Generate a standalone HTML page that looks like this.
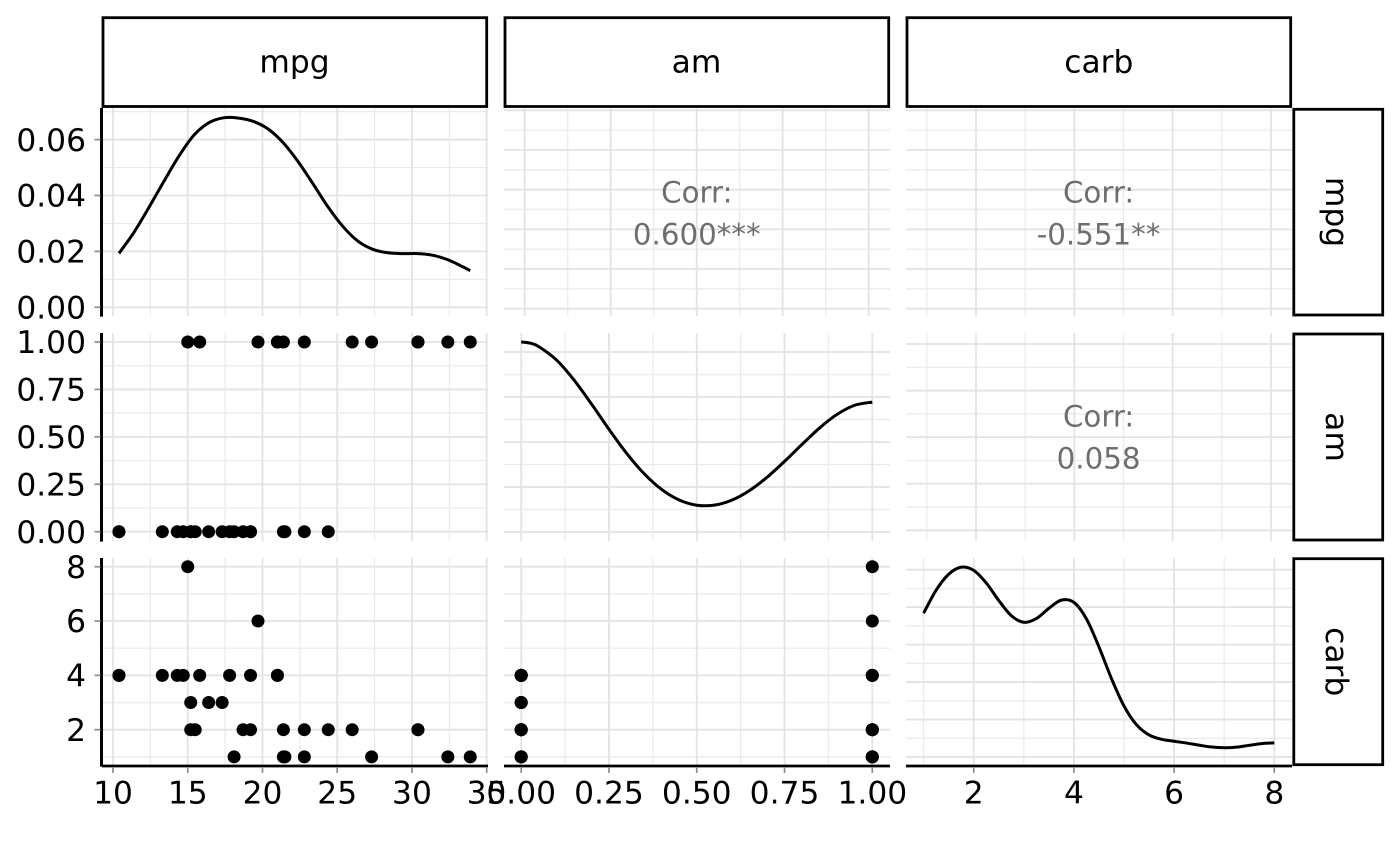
<!DOCTYPE html>
<html lang="en">
<head>
<meta charset="utf-8">
<title>Pairs plot of mpg, am and carb</title>
<style>
  html, body { margin: 0; padding: 0; background: #fff; }
  svg { display: block; }
  text { font-family: "DejaVu Sans", sans-serif; font-size: 31.3px; fill: #000; }
  .corr { fill: #6e6e6e; text-anchor: middle; font-size: 29.3px; }
  .strip-label { text-anchor: middle; }
  .strip-box { fill: #fff; stroke: #000; stroke-width: 2.8; }
</style>
</head>
<body>
<svg id="chart" xmlns="http://www.w3.org/2000/svg" width="1400" height="866" viewBox="0 0 1400 866">
  <rect x="0" y="0" width="1400" height="866" fill="#fff"/>
  <g id="grid"></g>

  <g>
    <text class="corr" x="696.8" y="202.3">Corr:</text>
    <text class="corr" x="696.8" y="244.3">0.600***</text>
    <text class="corr" x="1098.6" y="202.3">Corr:</text>
    <text class="corr" x="1098.6" y="244.3">-0.551**</text>
    <text class="corr" x="1098.6" y="426.6">Corr:</text>
    <text class="corr" x="1098.6" y="468.7">0.058</text>
  </g>

  <g id="marks"></g>
  <g id="axes"></g>

  <g>
    <rect class="strip-box" x="103" y="17.7" width="383.7" height="88.8"/>
    <text class="strip-label" x="294.5" y="72.7">mpg</text>
    <rect class="strip-box" x="505" y="17.7" width="383.7" height="88.8"/>
    <text class="strip-label" x="696.5" y="72.7">am</text>
    <rect class="strip-box" x="907" y="17.7" width="383.7" height="88.8"/>
    <text class="strip-label" x="1098.8" y="72.7">carb</text>
  </g>

  <g>
    <rect class="strip-box" x="1293.8" y="109.3" width="88.9" height="205.7"/>
    <text class="strip-label" transform="translate(1326 212) rotate(90)" x="0" y="0">mpg</text>
    <rect class="strip-box" x="1293.8" y="334" width="88.9" height="206"/>
    <text class="strip-label" transform="translate(1326 437) rotate(90)" x="0" y="0">am</text>
    <rect class="strip-box" x="1293.8" y="558.7" width="88.9" height="206"/>
    <text class="strip-label" transform="translate(1326 661.7) rotate(90)" x="0" y="0">carb</text>
  </g>
</svg>

<script>
// ---- Data ----
const mpgValues = [21,21,22.8,21.4,18.7,18.1,14.3,24.4,22.8,19.2,17.8,16.4,17.3,15.2,10.4,10.4,14.7,32.4,30.4,33.9,21.5,15.5,15.2,13.3,19.2,27.3,26,30.4,15.8,19.7,15,21.4];
const amValues = [1,1,1,0,0,0,0,0,0,0,0,0,0,0,0,0,0,1,1,1,0,0,0,0,0,1,1,1,1,1,1,1];
const carbValues = [4,4,1,1,2,1,4,2,2,4,4,3,3,3,4,4,4,1,2,1,1,2,2,4,2,1,2,2,4,6,8,2];

const mpgDensityX = [10.4,11.4,12.4,13.4,14.4,15.4,16.4,17.4,18.4,19.4,20.4,21.4,22.4,23.4,24.4,25.4,26.4,27.4,28.4,29.4,30.4,31.4,32.4,33.4,33.9];
const mpgDensityY = [0.0193,0.0268,0.0357,0.045,0.054,0.0615,0.066,0.0678,0.0677,0.0665,0.0637,0.0588,0.052,0.044,0.0358,0.0288,0.0236,0.0207,0.0195,0.0192,0.0192,0.0186,0.017,0.0145,0.0131];

const amDensityX = [0,0.025,0.05,0.1,0.15,0.2,0.25,0.3,0.35,0.4,0.45,0.5,0.55,0.6,0.65,0.7,0.75,0.8,0.85,0.9,0.95,1];
const amDensityY = [1.056,1.0495,1.03,0.9565,0.8454,0.7115,0.5707,0.438,0.3242,0.2363,0.1775,0.1488,0.1494,0.1773,0.2301,0.3037,0.3922,0.4871,0.5782,0.6539,0.7041,0.7217];

const carbDensityX = [1,1.25,1.5,1.75,2,2.25,2.5,2.75,3,3.25,3.5,3.75,4,4.25,4.5,4.75,5,5.25,5.5,5.75,6,6.25,6.5,6.75,7,7.25,7.5,7.75,8];
const carbDensityY = [0.1919,0.2227,0.2439,0.2534,0.2491,0.2323,0.2089,0.1887,0.1798,0.1848,0.1984,0.2094,0.2064,0.1844,0.147,0.1047,0.0681,0.043,0.0295,0.0236,0.021,0.0186,0.0158,0.0133,0.0123,0.0132,0.0156,0.0179,0.0188];

// Break values and tick labels
const mpgBreaks = [10,15,20,25,30,35];
const mpgMinorBreaks = [12.5,17.5,22.5,27.5,32.5];
const mpgTickLabels = ["10","15","20","25","30","35"];
const amBreaks = [0,0.25,0.5,0.75,1];
const amMinorBreaks = [0.125,0.375,0.625,0.875];
const amTickLabels = ["0.00","0.25","0.50","0.75","1.00"];
const carbBreaks = [2,4,6,8];
const carbMinorBreaks = [1,3,5,7];
const carbTickLabels = ["2","4","6","8"];
const mpgDensityBreaks = [0,0.02,0.04,0.06];
const mpgDensityMinorBreaks = [0.01,0.03,0.05,0.07];
const mpgDensityTickLabels = ["0.00","0.02","0.04","0.06"];
const carbDensityBreaks = [0,0.05,0.1,0.15,0.2,0.25];
const carbDensityMinorBreaks = [0.025,0.075,0.125,0.175,0.225];
const corrRowBreaks = [0,0.25,0.5,0.75,1,1.25];
const corrRowMinorBreaks = [0.125,0.375,0.625,0.875,1.125];

// ---- Axis functions ----
function linear(d0, d1, p0, p1) {
  return function (v) { return p0 + (v - d0) * (p1 - p0) / (d1 - d0); };
}
const xMpg = linear(10, 35, 113, 486.7);
const xAm = linear(0, 1, 521.2, 872.3);
const xAmCorr = linear(0, 1, 524.7, 868.7);
const xCarb = linear(2, 8, 973.7, 1274.3);
const xCarbCorr = linear(2, 8, 976, 1271);
const yMpgDensity = linear(0, 0.06, 307.3, 139.6);
const yCorrRow1 = linear(0, 1, 308.7, 150);
const yAm = linear(0, 1, 531.7, 342);
const yAmDensity = linear(0, 1, 532, 352);
const yAmCorr = linear(0, 1, 530.3, 344);
const yCarb = linear(2, 8, 729.7, 566.7);
const yCarbDensity = linear(0, 0.25, 757, 569.7);

const colExtent = [[102, 488], [504, 890], [906, 1292]];
const rowExtent = [[108, 316], [333, 541], [558, 766]];

const NS = 'http://www.w3.org/2000/svg';
const gridLayer = document.getElementById('grid');
const marksLayer = document.getElementById('marks');
const axesLayer = document.getElementById('axes');

function addLine(layer, name, x1, y1, x2, y2, color, width) {
  const el = document.createElementNS(NS, 'line');
  
  
  el.setAttribute('x1', x1);
  el.setAttribute('y1', y1);
  el.setAttribute('x2', x2);
  el.setAttribute('y2', y2);
  el.setAttribute('stroke', color);
  el.setAttribute('stroke-width', width);
  layer.appendChild(el);
}

function drawGrid(col, row, xs, xMajor, xMinor, ys, yMajor, yMinor) {
  const cx = colExtent[col], ry = rowExtent[row];
  const minorColor = '#eaeaea', majorColor = '#e3e3e3';
  yMinor.forEach(function (v) { addLine(gridLayer, 'grid-minor-y', cx[0], ys(v), cx[1], ys(v), minorColor, 1.2); });
  xMinor.forEach(function (v) { addLine(gridLayer, 'grid-minor-x', xs(v), ry[0], xs(v), ry[1], minorColor, 1.2); });
  yMajor.forEach(function (v) { addLine(gridLayer, 'grid-major-y', cx[0], ys(v), cx[1], ys(v), majorColor, 1.8); });
  xMajor.forEach(function (v) { addLine(gridLayer, 'grid-major-x', xs(v), ry[0], xs(v), ry[1], majorColor, 1.8); });
}

function drawPoints(name, xs, ys, xData, yData) {
  xData.forEach(function (v, i) {
    const el = document.createElementNS(NS, 'circle');
    
    
    el.setAttribute('cx', xs(v));
    el.setAttribute('cy', ys(yData[i]));
    el.setAttribute('r', 6.5);
    el.setAttribute('fill', '#000');
    marksLayer.appendChild(el);
  });
}

function drawCurve(name, xs, ys, xData, yData) {
  const pts = xData.map(function (v, i) { return [xs(v), ys(yData[i])]; });
  let d = 'M' + pts[0][0] + ' ' + pts[0][1];
  for (let i = 0; i < pts.length - 1; i++) {
    const p0 = pts[Math.max(i - 1, 0)], p1 = pts[i], p2 = pts[i + 1], p3 = pts[Math.min(i + 2, pts.length - 1)];
    d += ' C' + (p1[0] + (p2[0] - p0[0]) / 6) + ' ' + (p1[1] + (p2[1] - p0[1]) / 6) + ' ' +
      (p2[0] - (p3[0] - p1[0]) / 6) + ' ' + (p2[1] - (p3[1] - p1[1]) / 6) + ' ' + p2[0] + ' ' + p2[1];
  }
  const el = document.createElementNS(NS, 'path');
  
  
  el.setAttribute('d', d);
  el.setAttribute('fill', 'none');
  el.setAttribute('stroke', '#000');
  el.setAttribute('stroke-width', 3);
  marksLayer.appendChild(el);
}

function addText(name, x, y, anchor, label) {
  const el = document.createElementNS(NS, 'text');
  
  
  el.setAttribute('x', x);
  el.setAttribute('y', y);
  el.setAttribute('text-anchor', anchor);
  el.textContent = label;
  axesLayer.appendChild(el);
}

function drawYAxis(row, ys, breaks, labels) {
  const ry = rowExtent[row];
  addLine(axesLayer, 'y-axis-line', 101.5, ry[0], 101.5, ry[1] + 0.6, '#000', 3);
  breaks.forEach(function (v, i) {
    addLine(axesLayer, 'y-axis-tick', 94.5, ys(v), 100.5, ys(v), '#8c8c8c', 1.7);
    addText('y-tick-label', 86, ys(v) + 11.2, 'end', labels[i]);
  });
}

function drawXAxis(col, xs, breaks, labels) {
  const cx = colExtent[col];
  addLine(axesLayer, 'x-axis-line', cx[0], 766, cx[1], 766, '#000', 2.8);
  breaks.forEach(function (v, i) {
    addLine(axesLayer, 'x-axis-tick', xs(v), 767, xs(v), 773, '#8c8c8c', 1.7);
    addText('x-tick-label', xs(v), 803.4, 'middle', labels[i]);
  });
}

// ---- Row 1 ----
drawGrid(0, 0, xMpg, mpgBreaks, mpgMinorBreaks, yMpgDensity, mpgDensityBreaks, mpgDensityMinorBreaks);
drawGrid(1, 0, xAmCorr, amBreaks, amMinorBreaks, yCorrRow1, corrRowBreaks, corrRowMinorBreaks);
drawGrid(2, 0, xCarbCorr, carbBreaks, carbMinorBreaks, yCorrRow1, corrRowBreaks, corrRowMinorBreaks);
// ---- Row 2 ----
drawGrid(0, 1, xMpg, mpgBreaks, mpgMinorBreaks, yAm, amBreaks, amMinorBreaks);
drawGrid(1, 1, xAm, amBreaks, amMinorBreaks, yAmDensity, amBreaks, amMinorBreaks);
drawGrid(2, 1, xCarbCorr, carbBreaks, carbMinorBreaks, yAmCorr, amBreaks, amMinorBreaks);
// ---- Row 3 ----
drawGrid(0, 2, xMpg, mpgBreaks, mpgMinorBreaks, yCarb, carbBreaks, carbMinorBreaks);
drawGrid(1, 2, xAm, amBreaks, amMinorBreaks, yCarb, carbBreaks, carbMinorBreaks);
drawGrid(2, 2, xCarb, carbBreaks, carbMinorBreaks, yCarbDensity, carbDensityBreaks, carbDensityMinorBreaks);

// ---- Marks ----
drawCurve('density-curve-mpg', xMpg, yMpgDensity, mpgDensityX, mpgDensityY);
drawCurve('density-curve-am', xAm, yAmDensity, amDensityX, amDensityY);
drawCurve('density-curve-carb', xCarb, yCarbDensity, carbDensityX, carbDensityY);
drawPoints('point-mpg-am', xMpg, yAm, mpgValues, amValues);
drawPoints('point-mpg-carb', xMpg, yCarb, mpgValues, carbValues);
drawPoints('point-am-carb', xAm, yCarb, amValues, carbValues);

// ---- Axes ----
drawYAxis(0, yMpgDensity, mpgDensityBreaks, mpgDensityTickLabels);
drawYAxis(1, yAm, amBreaks, amTickLabels);
drawYAxis(2, yCarb, carbBreaks, carbTickLabels);
drawXAxis(0, xMpg, mpgBreaks, mpgTickLabels);
drawXAxis(1, xAm, amBreaks, amTickLabels);
drawXAxis(2, xCarb, carbBreaks, carbTickLabels);
</script>
</body>
</html>
